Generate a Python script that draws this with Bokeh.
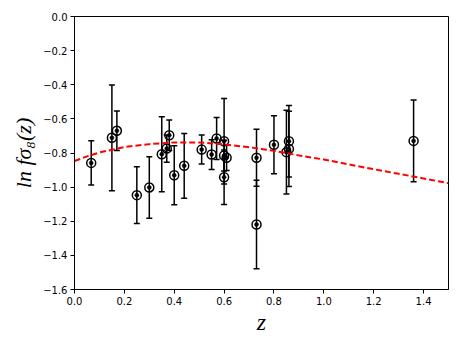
from bokeh.plotting import figure
from bokeh.models import ColumnDataSource, FixedTicker, CustomJSTickFormatter, Range1d
from bokeh.embed import file_html
from bokeh.resources import INLINE

# Data points: redshift, ln(f sigma8), symmetric error
z_obs = [0.067, 0.15, 0.17, 0.25, 0.30, 0.35, 0.37, 0.38, 0.40, 0.44, 0.51, 0.55,
         0.57, 0.60, 0.60, 0.61, 0.60, 0.73, 0.73, 0.80, 0.85, 0.86, 0.86, 1.36]
lnfs8_obs = [-0.858, -0.711, -0.670, -1.047, -1.002, -0.807, -0.774, -0.696, -0.930,
             -0.875, -0.780, -0.809, -0.715, -0.731, -0.815, -0.828, -0.942, -0.828,
             -1.219, -0.752, -0.795, -0.776, -0.731, -0.729]
lnfs8_err = [0.13, 0.31, 0.116, 0.166, 0.18, 0.22, 0.08, 0.09, 0.173, 0.19, 0.085,
             0.087, 0.123, 0.25, 0.09, 0.075, 0.16, 0.167, 0.26, 0.17, 0.246, 0.22,
             0.21, 0.24]

# Model curve
z_model = [0.0, 0.05, 0.1, 0.2, 0.3, 0.4, 0.5, 0.6, 0.7, 0.8, 0.9, 1.0, 1.1, 1.2,
           1.3, 1.4, 1.5]
lnfs8_model = [-0.847, -0.820, -0.797, -0.765, -0.748, -0.738, -0.738, -0.750,
               -0.766, -0.787, -0.814, -0.838, -0.867, -0.895, -0.922, -0.949, -0.977]

x_ticks = [0.0, 0.2, 0.4, 0.6, 0.8, 1.0, 1.2, 1.4]
y_ticks = [0.0, -0.2, -0.4, -0.6, -0.8, -1.0, -1.2, -1.4, -1.6]

lo = [v - e for v, e in zip(lnfs8_obs, lnfs8_err)]
hi = [v + e for v, e in zip(lnfs8_obs, lnfs8_err)]
src = ColumnDataSource(dict(z=z_obs, y=lnfs8_obs, lo=lo, hi=hi))

p = figure(width=455, height=340, output_backend="svg", toolbar_location=None,
           x_range=Range1d(0, 1.5), y_range=Range1d(-1.6, 0.0),
           min_border_left=74, min_border_right=7, min_border_top=16,
           min_border_bottom=51)
p.background_fill_color = "white"
p.border_fill_color = "white"
p.outline_line_color = "black"
p.outline_line_width = 1
p.xgrid.visible = False
p.ygrid.visible = False

# error bars
p.segment(x0="z", y0="lo", x1="z", y1="hi", source=src, line_color="black", line_width=1.5)
p.scatter(x="z", y="lo", source=src, marker="dash", size=6, line_color="black", line_width=1.5)
p.scatter(x="z", y="hi", source=src, marker="dash", size=6, line_color="black", line_width=1.5)
p.scatter(x="z", y="y", source=src, marker="circle", size=9, line_color="black",
          line_width=1.5, fill_color="white", fill_alpha=0.0)
p.scatter(x="z", y="y", source=src, marker="circle", size=4, line_color="black",
          line_width=0.5, fill_color="black")

# model line
p.line(z_model, lnfs8_model, line_color="red", line_width=2, line_dash="6 3")

fmt = CustomJSTickFormatter(code="return tick.toFixed(1).replace('-', '\\u2212');")
for ax, ticks in ((p.xaxis, x_ticks), (p.yaxis, y_ticks)):
    ax.ticker = FixedTicker(ticks=ticks)
    ax.formatter = fmt
    ax.minor_tick_line_color = None
    ax.major_tick_out = 4
    ax.major_tick_in = 0
    ax.major_tick_line_color = "black"
    ax.axis_line_color = "black"
    ax.major_label_text_font = "DejaVu Sans"
    ax.major_label_text_font_size = "10px"
    ax.major_label_text_color = "black"
    ax.major_label_standoff = 3
    ax.axis_label_text_font = "Liberation Serif"
    ax.axis_label_text_font_style = "italic"
    ax.axis_label_text_color = "black"

p.xaxis.axis_label = "z"
p.yaxis.axis_label = "ln fσ₈(z)"
p.xaxis.axis_label_text_font_size = "24px"
p.yaxis.axis_label_text_font_size = "22px"
p.xaxis.axis_label_standoff = 1
p.yaxis.axis_label_standoff = 4

open("out.html", "w").write(file_html(p, INLINE))
